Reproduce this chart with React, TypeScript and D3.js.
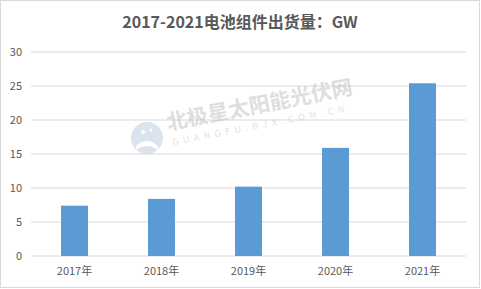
import React from "react";
import * as d3 from "d3";

const categories = ["2017年", "2018年", "2019年", "2020年", "2021年"];
const values = [7.4, 8.4, 10.2, 15.9, 25.4];
const yTicks = [0, 5, 10, 15, 20, 25, 30];
const title = "2017-2021电池组件出货量：GW";

const W = 481;
const H = 289;
const FONT = "'Noto Sans CJK SC', 'Noto Sans', sans-serif";

export default function App() {
  const x = d3.scaleBand<string>().domain(categories).range([31, 466]).paddingInner(0.69).paddingOuter(0.345);
  const y = d3.scaleLinear().domain([0, 30]).range([256, 52]);
  return (
    <svg width={W} height={H} style={{ position: "absolute", left: 0, top: 0 }}>
      <rect x={0.5} y={0.5} width={W - 2} height={H - 2} fill="#fff" stroke="#d9d9d9" />
      <text x={240} y={28} textAnchor="middle" fontFamily={FONT} fontSize={16} fontWeight="bold" fill="#595959">
        {title}
      </text>
      {yTicks.map((t) => (
        <g key={t}>
          <line x1={31} x2={466} y1={y(t)} y2={y(t)} stroke="#d9d9d9" strokeWidth={1} />
          <text x={22} y={y(t)} dy="0.35em" textAnchor="end" fontFamily={FONT} fontSize={11} fill="#595959">
            {t}
          </text>
        </g>
      ))}
      {/* watermark */}
      <g opacity={0.5}>
        <circle cx={147} cy={138} r={16} fill="#b8c8dc" />
        <path d="M136,146 Q147,136 158,146 L158,150 Q147,142 136,150 Z" fill="#fff" />
        <circle cx={143} cy={132} r={2} fill="#fff" />
        <circle cx={151} cy={130} r={1.5} fill="#fff" />
        <g transform="translate(168,130) rotate(-11)">
          <text x={0} y={0} fontFamily={FONT} fontSize={21} fontWeight="bold" fill="#bfbfbf">
            北极星太阳能光伏网
          </text>
          <text x={2} y={16} fontFamily={FONT} fontSize={9} letterSpacing={4.6} fill="#c8c8c8">
            GUANGFU.BJX.COM.CN
          </text>
        </g>
      </g>
      {categories.map((c, i) => (
        <rect key={c} x={x(c)} y={y(values[i])} width={x.bandwidth()} height={y(0) - y(values[i])} fill="#5b9bd5" />
      ))}
      {categories.map((c) => (
        <text key={c} x={(x(c) as number) + x.bandwidth() / 2} y={275} textAnchor="middle" fontFamily={FONT} fontSize={11} fill="#595959">
          {c}
        </text>
      ))}
    </svg>
  );
}
